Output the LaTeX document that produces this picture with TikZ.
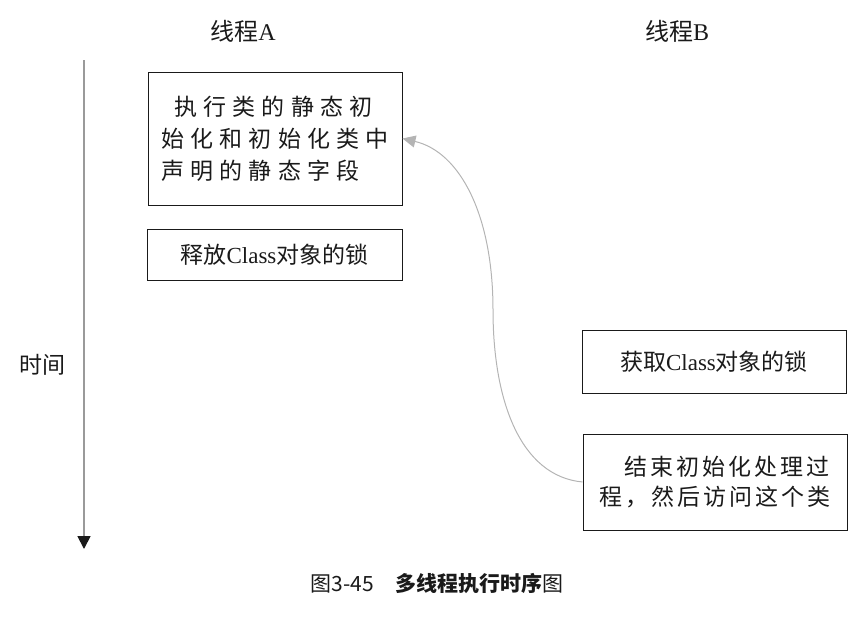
\documentclass[tikz,border=0pt]{standalone}
\usepackage{fontspec}
\setmainfont{Liberation Serif}
\newfontfamily\cjk{Noto Sans CJK SC}
\newfontfamily\cjksp[LetterSpace=27]{Noto Sans CJK SC}
\newfontfamily\cjkspb[LetterSpace=13]{Noto Sans CJK SC}
\newcommand{\zh}[1]{{\cjk #1}}
\usetikzlibrary{arrows.meta}
\definecolor{ink}{HTML}{1A1A1A}
\definecolor{axisgray}{HTML}{9A9A9A}
\definecolor{curvegray}{HTML}{B4B4B4}
\tikzset{
  box/.style={draw=ink, line width=1pt, inner sep=0pt, text=ink},
  txt/.style={text=ink, inner sep=0pt},
  timeline/.style={draw=axisgray, line width=1.8pt, -{Triangle[length=13pt,width=13pt,fill=ink,color=ink]}},
  back/.style={draw=curvegray, line width=1pt, -{Triangle[length=13pt,width=12pt,fill=curvegray,color=curvegray]}}
}
\begin{document}
\begin{tikzpicture}[x=1pt,y=-1pt]
\useasboundingbox (0,0) rectangle (864,616);
\fontsize{23}{32}\selectfont
% column headers
\node[txt, font=\fontsize{24}{28}\selectfont] (la) at (243,31) {\cjk 线程{\rmfamily A}};
\node[txt, font=\fontsize{24}{28}\selectfont] (lb) at (677,31) {\cjk 线程{\rmfamily B}};
% time axis
\coordinate (t0) at (84,60);
\coordinate (t1) at (84,549);
\draw[timeline] (t0) -- (t1);
\node[txt] (tl) at (42,365) {\cjk 时间};
% thread A boxes
\node[box, minimum width=254, minimum height=133, align=left] (b1) at (275,138.5)
  {\hspace*{13pt}\cjksp 执行类的静态初\\ \cjksp 始化和初始化类中\\ \cjksp 声明的静态字段};
\node[box, minimum width=255, minimum height=51] (b2) at (274.5,254.5)
  {\zh{释放}Class\zh{对象的锁}};
% thread B boxes
\node[box, minimum width=264, minimum height=63] (b3) at (714,361.5)
  {\zh{获取}Class\zh{对象的锁}};
\node[box, minimum width=264, minimum height=96, align=left,
      font=\fontsize{23}{30}\selectfont] (b4) at (715,482)
  {\hspace*{25pt}\cjkspb 结束初始化处理过\\ \cjkspb 程，然后访问这个类};
% connector
\coordinate (mid) at (493,310);
\draw[back] (b4.west) .. controls (520,476) and (493,400) .. (mid)
  .. controls (493,215) and (460,152) .. (b1.east);
% caption
\node[txt, font=\fontsize{21}{24}\selectfont] (cap) at (437,583)
  {\cjk 图3-45　\textbf{多线程执行时序}图};
\end{tikzpicture}
\end{document}
